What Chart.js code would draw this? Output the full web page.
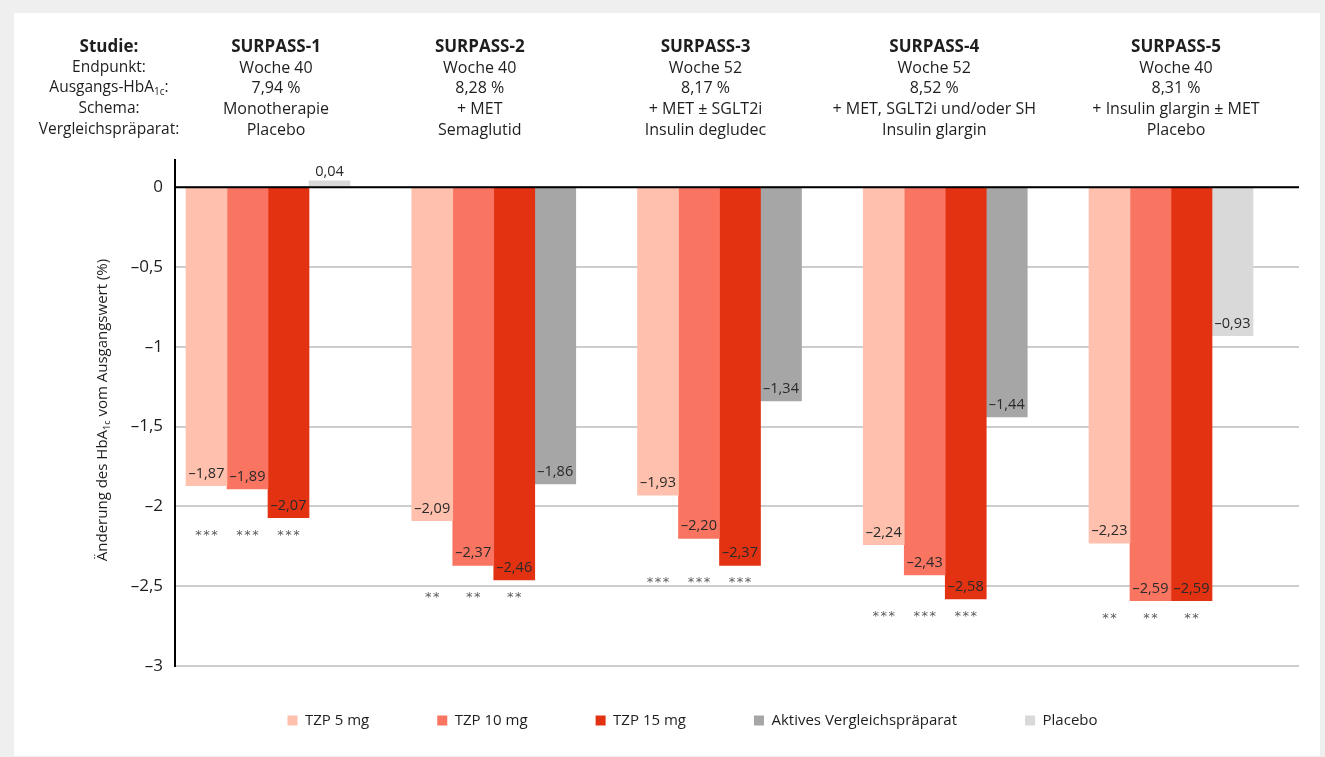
<!DOCTYPE html>
<html>
<head>
<meta charset="utf-8">
<script src="https://cdn.jsdelivr.net/npm/chart.js@4.4.1/dist/chart.umd.min.js"></script>
<style>
  html, body { margin: 0; padding: 0; background: #efefef; }
  #panel { position: absolute; left: 14px; top: 13px; width: 1306px; height: 743px; background: #fff; }
  canvas { display: block; }
</style>
</head>
<body>
<div id="panel"><canvas id="hba1c-chart" width="1306" height="743"></canvas></div>
<script>
// Header rows
const rowLabels = ['Studie:', 'Endpunkt:', 'Ausgangs-HbA_{1c}:', 'Schema:', 'Vergleichspräparat:'];
const studies = ['SURPASS-1', 'SURPASS-2', 'SURPASS-3', 'SURPASS-4', 'SURPASS-5'];
const endpoints = ['Woche 40', 'Woche 40', 'Woche 52', 'Woche 52', 'Woche 40'];
const baselineHbA1c = ['7,94 %', '8,28 %', '8,17 %', '8,52 %', '8,31 %'];
const regimens = ['Monotherapie', '+ MET', '+ MET ± SGLT2i', '+ MET, SGLT2i und/oder SH', '+ Insulin glargin ± MET'];
const comparators = ['Placebo', 'Semaglutid', 'Insulin degludec', 'Insulin glargin', 'Placebo'];

// Change of HbA1c from baseline (%)
const tzp5 = [-1.87, -2.09, -1.93, -2.24, -2.23];
const tzp10 = [-1.89, -2.37, -2.20, -2.43, -2.59];
const tzp15 = [-2.07, -2.46, -2.37, -2.58, -2.59];
const activeComparator = [null, -1.86, -1.34, -1.44, null];
const placebo = [0.04, null, null, null, -0.93];

// significance marks under the TZP bars
const sigTzp5 = ['***', '**', '***', '***', '**'];
const sigTzp10 = ['***', '**', '***', '***', '**'];
const sigTzp15 = ['***', '**', '***', '***', '**'];

const yTicks = [0, -0.5, -1, -1.5, -2, -2.5, -3];

const FONT = '"Open Sans", "Noto Sans", sans-serif';
const TEXT = '#1e1e1e';

const fmt = v => (v < 0 ? '–' : '') + Math.abs(v).toFixed(2).replace('.', ',');
const toPoints = arr => arr.map((y, i) => ({ x: i, y })).filter(p => p.y !== null);

// draws "Text_{sub}" with a lowered small subscript
function drawRich(ctx, text, x, y, align, size, weight) {
  const parts = text.split(/_\{(.*?)\}/);
  const subSize = Math.round(size * 0.62);
  let total = 0;
  parts.forEach((p, k) => {
    ctx.font = `${weight || ''} ${k % 2 ? subSize : size}px ${FONT}`;
    total += ctx.measureText(p).width;
  });
  let cx = align === 'center' ? x - total / 2 : (align === 'right' ? x - total : x);
  ctx.textAlign = 'left';
  parts.forEach((p, k) => {
    ctx.font = `${weight || ''} ${k % 2 ? subSize : size}px ${FONT}`;
    ctx.fillText(p, cx, k % 2 ? y + size * 0.28 : y);
    cx += ctx.measureText(p).width;
  });
}

const headerPlugin = {
  id: 'header',
  afterDraw(chart) {
    const { ctx, scales: { x } } = chart;
    const nudge = [8, -14, -14, -11, 5];
    const rowsY = [34, 55, 75, 96, 117];
    const rows = [studies, endpoints, baselineHbA1c, regimens, comparators];
    ctx.save();
    ctx.fillStyle = TEXT;
    ctx.textBaseline = 'middle';
    rowLabels.forEach((lbl, r) => drawRich(ctx, lbl, 95, rowsY[r], 'center', r === 0 ? 17 : 15.5, r === 0 ? 'bold' : ''));
    rows.forEach((row, r) => {
      row.forEach((txt, i) => {
        drawRich(ctx, txt, x.getPixelForValue(i) + nudge[i], rowsY[r], 'center', r === 0 ? 17 : 16, r === 0 ? 'bold' : '');
      });
    });
    // y axis title
    ctx.translate(89, chart.chartArea.top + 250);
    ctx.rotate(-Math.PI / 2);
    drawRich(ctx, 'Änderung des HbA_{1c} vom Ausgangswert (%)', 0, 0, 'center', 15, '');
    ctx.restore();
  }
};

const labelsPlugin = {
  id: 'barLabels',
  afterDatasetsDraw(chart) {
    const { ctx, chartArea, scales: { y } } = chart;
    ctx.save();
    // zero line over the bars
    const y0 = y.getPixelForValue(0);
    ctx.strokeStyle = '#000';
    ctx.lineWidth = 2;
    ctx.beginPath();
    ctx.moveTo(chartArea.left, y0);
    ctx.lineTo(chartArea.right, y0);
    ctx.stroke();

    ctx.fillStyle = '#2a2a2a';
    ctx.font = `14.5px ${FONT}`;
    ctx.textAlign = 'center';
    ctx.textBaseline = 'alphabetic';
    chart.data.datasets.forEach((ds, di) => {
      chart.getDatasetMeta(di).data.forEach((bar, j) => {
        const v = ds.data[j].y;
        ctx.fillText(fmt(v), bar.x, v < 0 ? bar.y - 8 : bar.y - 5);
      });
    });

    // stars
    const sigs = [sigTzp5, sigTzp10, sigTzp15];
    const tzp = [tzp5, tzp10, tzp15];
    ctx.fillStyle = '#5a5a5a';
    ctx.font = '13px "DejaVu Sans"';
    studies.forEach((s, i) => {
      const rowY = Math.max(...tzp.map(a => y.getPixelForValue(a[i]))) + 13;
      sigs.forEach((sig, k) => {
        const bar = chart.getDatasetMeta(k).data[i];
        const n = sig[i].length;
        for (let c = 0; c < n; c++) {
          ctx.fillText('*', bar.x + (c - (n - 1) / 2) * 8, rowY + 8);
        }
      });
    });
    ctx.restore();
  }
};

const legendNudge = {
  id: 'legendNudge',
  afterUpdate(chart) {
    const lg = chart.legend;
    if (!lg) return;
    lg.top -= 21;
    lg.left += 36; lg.right += 36;
  }
};

const ctx = document.getElementById('hba1c-chart').getContext('2d');
new Chart(ctx, {
  type: 'bar',
  data: {
    datasets: [
      { label: 'TZP 5 mg', data: toPoints(tzp5), backgroundColor: '#ffc0ad', stack: 'a' },
      { label: 'TZP 10 mg', data: toPoints(tzp10), backgroundColor: '#f97461', stack: 'b' },
      { label: 'TZP 15 mg', data: toPoints(tzp15), backgroundColor: '#e23212', stack: 'c' },
      { label: 'Aktives Vergleichspräparat', data: toPoints(activeComparator), backgroundColor: '#a6a6a6', stack: 'd' },
      { label: 'Placebo', data: toPoints(placebo), backgroundColor: '#d9d9d9', stack: 'd' }
    ]
  },
  options: {
    responsive: false,
    animation: false,
    devicePixelRatio: 1,
    barThickness: 41,
    layout: { padding: { top: 147, right: 21, bottom: 10, left: 0 } },
    plugins: {
      tooltip: { enabled: false },
      legend: {
        position: 'bottom',
        maxHeight: 80,
        labels: {
          boxWidth: 10, boxHeight: 10, padding: 68, color: TEXT,
          font: { family: FONT, size: 15 }
        }
      }
    },
    scales: {
      x: {
        type: 'linear', display: false, offset: false,
        min: -0.412, max: 4.567,
        afterBuildTicks: s => { s.ticks = studies.map((_, i) => ({ value: i })); }
      },
      y: {
        stacked: true,
        min: -3, max: 0.17,
        afterBuildTicks: s => { s.ticks = yTicks.map(v => ({ value: v })); },
        afterFit: s => { s.width = 161; },
        border: { display: true, color: '#000', width: 2 },
        grid: { color: '#cdcdcd', lineWidth: 2, drawTicks: false },
        ticks: {
          padding: 12, color: TEXT,
          font: { family: FONT, size: 17 },
          callback: v => v === 0 ? '0' : '–' + String(Math.abs(v)).replace('.', ',')
        }
      }
    }
  },
  plugins: [headerPlugin, labelsPlugin, legendNudge]
});
</script>
</body>
</html>
